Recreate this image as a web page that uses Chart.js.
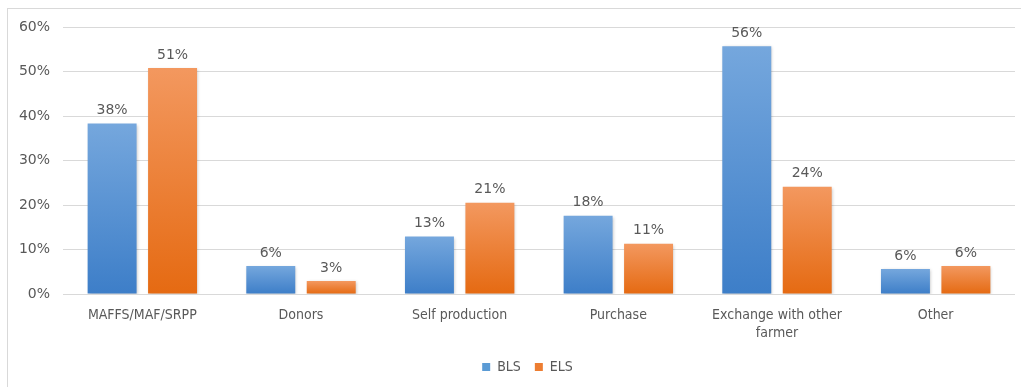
<!DOCTYPE html>
<html lang="en">
<head>
    <meta charset="UTF-8">
    <title>Seed source by group</title>
    <script src="https://cdn.jsdelivr.net/npm/chart.js"></script>
    <style>
        html, body {
            margin: 0;
            padding: 0;
            background: #fff;
            overflow: hidden;
        }
        .frame {
            position: absolute;
            left: 7px;
            top: 8px;
            width: 1100px;
            height: 500px;
            border: 1px solid #d9d9d9;
        }
        .wrap {
            position: absolute;
            left: 0;
            top: 0;
            width: 1021px;
            height: 387px;
        }
    </style>
</head>
<body>
    <div class="frame"></div>
    <div class="wrap">
        <canvas id="sourceChart" width="1021" height="387"></canvas>
    </div>

    <script>
        const categories = [
            'MAFFS/MAF/SRPP',
            'Donors',
            'Self production',
            'Purchase',
            ['Exchange with other', 'farmer'],
            'Other'
        ];
        const blsValues = [38.3, 6.3, 12.9, 17.6, 55.7, 5.6];
        const elsValues = [50.8, 2.9, 20.5, 11.3, 24.1, 6.3];
        const yTicks = [0, 10, 20, 30, 40, 50, 60];

        const textColor = '#595959';
        const gridColor = '#d9d9d9';

        // vertical gradient per bar, light at the top
        function barFill(top, bottom) {
            return function (context) {
                const chart = context.chart;
                const area = chart.chartArea;
                if (!area || context.parsed == null) return bottom;
                const y = chart.scales.y;
                const yTop = y.getPixelForValue(context.parsed.y);
                const yBase = y.getPixelForValue(0);
                const g = chart.ctx.createLinearGradient(0, yTop, 0, yBase);
                g.addColorStop(0, top);
                g.addColorStop(1, bottom);
                return g;
            };
        }

        // percentage labels above each bar
        const valueLabels = {
            id: 'valueLabels',
            afterDatasetsDraw(chart) {
                const ctx = chart.ctx;
                ctx.save();
                ctx.font = '14px "DejaVu Sans"';
                ctx.fillStyle = textColor;
                ctx.textAlign = 'center';
                ctx.textBaseline = 'bottom';
                chart.data.datasets.forEach((ds, i) => {
                    chart.getDatasetMeta(i).data.forEach((bar, j) => {
                        ctx.fillText(Math.round(ds.data[j]) + '%', bar.x, bar.y - 6);
                    });
                });
                ctx.restore();
            }
        };

        // faint shadow round the bars
        const barShadow = {
            id: 'barShadow',
            beforeDatasetsDraw(chart) {
                const ctx = chart.ctx;
                ctx.save();
                ctx.shadowColor = 'rgba(0, 0, 0, 0.22)';
                ctx.shadowBlur = 3;
                ctx.shadowOffsetX = 1;
                ctx.shadowOffsetY = 1;
            },
            afterDatasetsDraw(chart) {
                chart.ctx.restore();
            }
        };

        // legend sits a little right of the plot centre
        const legendShift = {
            id: 'legendShift',
            afterLayout(chart) {
                if (!chart.legend) return;
                chart.legend.left += 20;
                chart.legend.right += 20;
            }
        };

        const ctx = document.getElementById('sourceChart').getContext('2d');

        const sourceChart = new Chart(ctx, {
            type: 'bar',
            data: {
                labels: categories,
                datasets: [
                    {
                        label: 'BLS',
                        data: blsValues,
                        backgroundColor: barFill('#75a7dd', '#3d7ec8'),
                        borderWidth: 0
                    },
                    {
                        label: 'ELS',
                        data: elsValues,
                        backgroundColor: barFill('#f3985f', '#e56a12'),
                        borderWidth: 0
                    }
                ]
            },
            plugins: [barShadow, valueLabels, legendShift],
            options: {
                responsive: false,
                animation: false,
                categoryPercentage: 0.762,
                barPercentage: 0.81,
                layout: {
                    padding: { left: 0, right: 6, top: 27, bottom: 3 }
                },
                plugins: {
                    legend: {
                        position: 'bottom',
                        labels: {
                            color: textColor,
                            font: { family: '"DejaVu Sans Condensed"', size: 14 },
                            boxWidth: 8,
                            boxHeight: 8,
                            padding: 14,
                            generateLabels(chart) {
                                return chart.data.datasets.map((ds, i) => ({
                                    text: ds.label,
                                    fillStyle: i === 0 ? '#5b9bd5' : '#ed7d31',
                                    strokeStyle: 'transparent',
                                    lineWidth: 0,
                                    datasetIndex: i,
                                    fontColor: textColor
                                }));
                            }
                        }
                    },
                    tooltip: { enabled: false }
                },
                scales: {
                    x: {
                        grid: { display: false },
                        border: { display: false },
                        ticks: {
                            color: textColor,
                            padding: 4,
                            maxRotation: 0,
                            font: { family: '"DejaVu Sans Condensed"', size: 14, lineHeight: 1.3 }
                        },
                        afterFit(scale) {
                            scale.height = 52;
                        }
                    },
                    y: {
                        min: 0,
                        max: 60,
                        afterBuildTicks(scale) {
                            scale.ticks = yTicks.map(v => ({ value: v }));
                        },
                        grid: { color: gridColor, drawTicks: false },
                        border: { display: false },
                        ticks: {
                            color: textColor,
                            padding: 13,
                            font: { family: '"DejaVu Sans"', size: 14 },
                            callback: v => v + '%'
                        },
                        afterFit(scale) {
                            scale.width = 63;
                        }
                    }
                }
            }
        });
    </script>
</body>
</html>
